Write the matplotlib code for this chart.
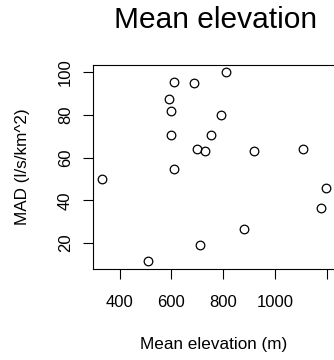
import numpy as np
import matplotlib
matplotlib.use('Agg')
import matplotlib.pyplot as plt

plt.rcParams['font.family'] = ['Liberation Sans', 'DejaVu Sans']

# mean elevation (m) vs MAD (l/s/km^2)
elev = [330, 510, 609, 689, 810, 591, 600, 790, 600, 753,
        699, 730, 920, 1108, 609, 1199, 1179, 880, 710]
mad = [50.0, 11.4, 95.3, 95.0, 100.0, 87.6, 82.1, 79.9, 70.5, 70.5,
       64.2, 63.1, 63.0, 64.2, 54.8, 45.7, 36.3, 26.6, 19.2]

xticks = [400, 600, 800, 1000, 1200]
xticklabels = ['400', '600', '800', '1000', '']
yticks = [20, 40, 60, 80, 100]

W, H = 334, 360
fig = plt.figure(figsize=(W/100, H/100), dpi=100)
l, r, t, b = 92.5, 335.4, 65, 269
ax = fig.add_axes([l/W, 1-b/H, (r-l)/W, (b-t)/H])

ax.plot(elev, mad, 'o', mfc='none', mec='k', ms=6.2, mew=0.9)
ax.set_xlim(295.2, 1233.6)
ax.set_ylim(7.86, 103.5)

ax.set_xticks(xticks)
ax.set_xticklabels(xticklabels)
ax.set_yticks(yticks)
ax.set_yticklabels([str(v) for v in yticks], rotation=90, va='center')
ax.tick_params(direction='out', length=7, width=0.8, labelsize=12)
ax.tick_params(axis='x', pad=12)
ax.tick_params(axis='y', pad=7)
for s in ax.spines.values():
    s.set_linewidth(0.8)

fig.text(216/W, 1-28/H, 'Mean elevation', fontsize=21.5, ha='center', va='baseline')
fig.text(214/W, 1-344/H, 'Mean elevation (m)', fontsize=12.3, ha='center', va='center')
fig.text(22/W, 1-167/H, 'MAD (l/s/km^2)', fontsize=12.3, ha='center', va='center', rotation=90)

fig.savefig('out.png', dpi=100)
